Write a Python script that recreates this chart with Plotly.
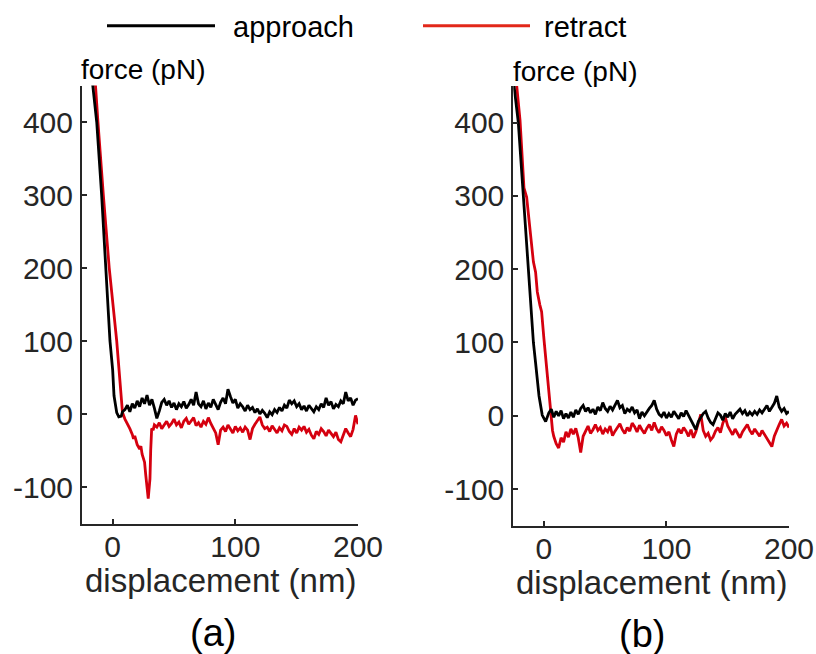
import plotly.graph_objects as go

# ---------------- data ----------------
# panel (a) – approach (black)
a_app_x_steep = [-22, -16.5, -13, -9, -5.5, -2.2, 0, 1.1, 3.3, 5, 7, 8]
a_app_y_steep = [540, 450, 400, 300, 200, 100, 60, 25, 2, -4, -3, 3]
a_app_x_flat = list(range(10, 201, 2))
a_app_y_flat = [6, 12, 3, 14, 8, 18, 10, 22, 14, 26,
                12, 20, 8, -6, 4, 16, 20, 12, 18, 9,
                15, 6, 14, 10, 17, 8, 13, 20, 12, 30,
                14, 10, 18, 7, 15, 9, 20, 12, 6, 16,
                22, 14, 34, 24, 15, 20, 8, 14, 10, 4,
                12, 6, 9, 2, 7, 0, 5, 1, -5, 3,
                -1, 6, 2, 9, 4, 12, 8, 19, 14, 18,
                10, 14, 6, 11, 4, 12, 8, 3, 10, 6,
                14, 9, 22, 12, 17, 7, 13, 10, 18, 14,
                30, 18, 22, 12, 19, 21]

# panel (a) – retract (red)
a_ret_x_steep = [-20, -14.4, -12, -7.6, -2.8, 3.3, 6, 8,
                 10, 12, 14, 16, 17, 18, 20, 22, 23, 24, 25, 26, 27, 28,
                 29, 29.6, 30.4, 31, 31.8, 33, 34]
a_ret_y_steep = [600, 450, 400, 300, 200, 100, 45, 2,
                 -7, -13, -20, -28, -34, -30, -42, -48, -44, -55, -61, -66, -84, -98,
                 -116, -104, -89, -50, -20, -22, -15]
a_ret_x_flat = list(range(36, 201, 2))
a_ret_y_flat = [-18, -12, -20, -14, -10, -17, -13, -7, -15, -11,
                -19, -10, -6, -14, -9, -5, -16, -12, -18, -10,
                -14, -5, -13, -19, -26, -42, -22, -18, -24, -15,
                -21, -26, -17, -23, -19, -25, -18, -22, -35, -20,
                -14, -9, -4, -15, -20, -18, -24, -16, -22, -26,
                -19, -23, -15, -17, -24, -28, -20, -26, -18, -22,
                -17, -25, -21, -29, -34, -24, -28, -20, -24, -30,
                -22, -27, -31, -25, -35, -38, -28, -20, -26, -31,
                -21, -2, -14]

# panel (b) – approach (black)
b_app_x_steep = [-25.5, -24.4, -20.9, -16.8, -12.7, -8.6, -6.8, -4, -1.4, 1.4]
b_app_y_steep = [480, 450, 400, 300, 200, 100, 72, 27, 1, -8]
b_app_x_flat = list(range(4, 201, 2))
b_app_y_flat = [4, 9, -2, 6, 0, 7, -4, 3, -3, 5,
                -2, 8, 2, 10, 14, 6, 11, 4, 9, 2,
                12, 7, 18, 10, 6, 13, 8, 15, 21, 11,
                14, 3, 9, 6, 12, 4, 8, -4, 5, 0,
                6, 10, 14, 21, 9, 2, -1, 5, -3, 3,
                -2, 6, 1, -4, 4, -1, 7, 0, -6, -12,
                -19, -8, -2, 3, 6, -3, -9, -12, -4, 4,
                1, -6, 3, -2, 5, -4, 2, 6, 9, 3,
                7, 0, 5, 1, 6, 2, 8, 4, 10, 14,
                6, 11, 17, 27, 12, 6, 10, 3, 6]

# panel (b) – retract (red)
b_ret_x_steep = [-25, -22.2, -19.5, -17.6, -16.3, -14.1, -11.4, -8.6, -6.8, -5.4,
                 -3.3, -1.9, 0, 1.4, 2.7, 4, 5.4, 7, 8]
b_ret_y_steep = [520, 450, 403, 352, 311, 298, 251, 210, 196, 169,
                 151, 142, 105, 80, 60, 27, 4, -20, -28]
b_ret_x_flat = list(range(10, 201, 2))
b_ret_y_flat = [-38, -44, -30, -36, -22, -29, -18, -25, -17, -30,
                -50, -28, -21, -14, -24, -19, -12, -20, -16, -25,
                -18, -22, -14, -27, -21, -15, -11, -19, -24, -16,
                -21, -10, -15, -22, -13, -19, -24, -17, -12, -20,
                -9, -18, -23, -15, -20, -27, -22, -33, -42, -25,
                -18, -24, -16, -21, -28, -19, -30, -22, -8, 2,
                -20, -28, -24, -33, -29, -21, -16, -23, -10, -2,
                -14, -20, -26, -18, -24, -30, -22, -17, -12, -20,
                -25, -18, -23, -28, -20, -26, -30, -36, -42, -28,
                -19, -12, -5, -14, -10, -16]

x_ticks = [0, 100, 200]
x_tick_text = ["0", "100", "200"]
y_ticks = [-100, 0, 100, 200, 300, 400]
y_tick_text = ["-100", "0", "100", "200", "300", "400"]
x_range = [-25, 200]
y_range = [-150, 450]

series_names = ["approach", "retract"]
BLACK = "#000000"
RED = "#d5000f"
LEGEND_RED = "#e2271a"
AXC = "#262626"
FONT = "Liberation Sans, Arial, sans-serif"
LW = 2.8

fig = go.Figure()

panels = [
    ("x", "y", a_app_x_steep + a_app_x_flat, a_app_y_steep + a_app_y_flat,
     a_ret_x_steep + a_ret_x_flat, a_ret_y_steep + a_ret_y_flat),
    ("x2", "y2", b_app_x_steep + b_app_x_flat, b_app_y_steep + b_app_y_flat,
     b_ret_x_steep + b_ret_x_flat, b_ret_y_steep + b_ret_y_flat),
]
for xa, ya, axx, axy, rxx, rxy in panels:
    fig.add_trace(go.Scatter(x=rxx, y=rxy, mode="lines", name=series_names[1],
                             line=dict(color=RED, width=LW), xaxis=xa, yaxis=ya,
                             showlegend=False))
    fig.add_trace(go.Scatter(x=axx, y=axy, mode="lines", name=series_names[0],
                             line=dict(color=BLACK, width=LW), xaxis=xa, yaxis=ya,
                             showlegend=False))

W, H = 816, 654


def px(x):
    return x / W


def py(y):
    return 1 - y / H


axis_common = dict(showline=True, linecolor=AXC, linewidth=2, ticks="inside",
                   ticklen=5, tickwidth=2, tickcolor=AXC, showgrid=False,
                   zeroline=False, mirror=False, tickmode="array", automargin=False,
                   tickfont=dict(family=FONT, size=30, color=AXC))

fig.update_layout(
    width=W, height=H, autosize=False,
    margin=dict(l=0, r=0, t=0, b=0, pad=0, autoexpand=False),
    paper_bgcolor="white", plot_bgcolor="white",
    showlegend=False,
    xaxis=dict(domain=[px(82), px(358)], range=x_range, tickvals=x_ticks,
               ticktext=x_tick_text, anchor="y", ticklabelstandoff=-5,
               ticklabeloverflow="allow", **axis_common),
    yaxis=dict(domain=[py(523.5), py(85.5)], range=y_range, tickvals=y_ticks,
               ticktext=y_tick_text, anchor="x", ticklabelstandoff=1,
               ticklabeloverflow="allow", **axis_common),
    xaxis2=dict(domain=[px(513.3), px(789)], range=x_range, tickvals=x_ticks,
                ticktext=x_tick_text, anchor="y2", ticklabelstandoff=-5,
                ticklabeloverflow="allow", **axis_common),
    yaxis2=dict(domain=[py(525.7), py(86)], range=y_range, tickvals=y_ticks,
                ticktext=y_tick_text, anchor="x2", ticklabelstandoff=1,
                ticklabeloverflow="allow", **axis_common),
)

ann = []
# y-axis labels at top
ann.append(dict(text="force (pN)", x=px(79), y=py(69), xanchor="left", yanchor="middle",
                font=dict(family=FONT, size=28, color="black")))
ann.append(dict(text="force (pN)", x=px(511), y=py(71), xanchor="left", yanchor="middle",
                font=dict(family=FONT, size=28, color="black")))
# x-axis labels
ann.append(dict(text="displacement (nm)", x=px(220), y=py(580), xanchor="center",
                yanchor="middle", font=dict(family=FONT, size=33, color=AXC)))
ann.append(dict(text="displacement (nm)", x=px(651), y=py(582), xanchor="center",
                yanchor="middle", font=dict(family=FONT, size=33, color=AXC)))
# panel letters
ann.append(dict(text="(a)", x=px(213), y=py(633), xanchor="center", yanchor="middle",
                font=dict(family=FONT, size=38, color="black")))
ann.append(dict(text="(b)", x=px(642), y=py(634), xanchor="center", yanchor="middle",
                font=dict(family=FONT, size=38, color="black")))
# legend labels
ann.append(dict(text=series_names[0], x=px(231), y=py(27), xanchor="left", yanchor="middle",
                font=dict(family=FONT, size=29, color="black")))
ann.append(dict(text=series_names[1], x=px(542), y=py(27), xanchor="left", yanchor="middle",
                font=dict(family=FONT, size=29, color="black")))
for a in ann:
    a.update(xref="paper", yref="paper", showarrow=False)
fig.update_layout(annotations=ann)

# legend keys
fig.add_shape(type="line", xref="paper", yref="paper", x0=px(107), x1=px(215),
              y0=py(25.7), y1=py(25.7), line=dict(color=BLACK, width=3))
fig.add_shape(type="line", xref="paper", yref="paper", x0=px(423), x1=px(530),
              y0=py(25.7), y1=py(25.7), line=dict(color=LEGEND_RED, width=3))

post = ("document.body.style.margin='0px';"
        "document.body.style.padding='0px';"
        "document.body.style.overflow='hidden';"
        "document.documentElement.style.overflow='hidden';"
        "Plotly.relayout(document.getElementById('{plot_id}'), {width: 816, height: 654});")

fig.write_html("out.html", config={"responsive": False, "displayModeBar": False},
               post_script=post)
